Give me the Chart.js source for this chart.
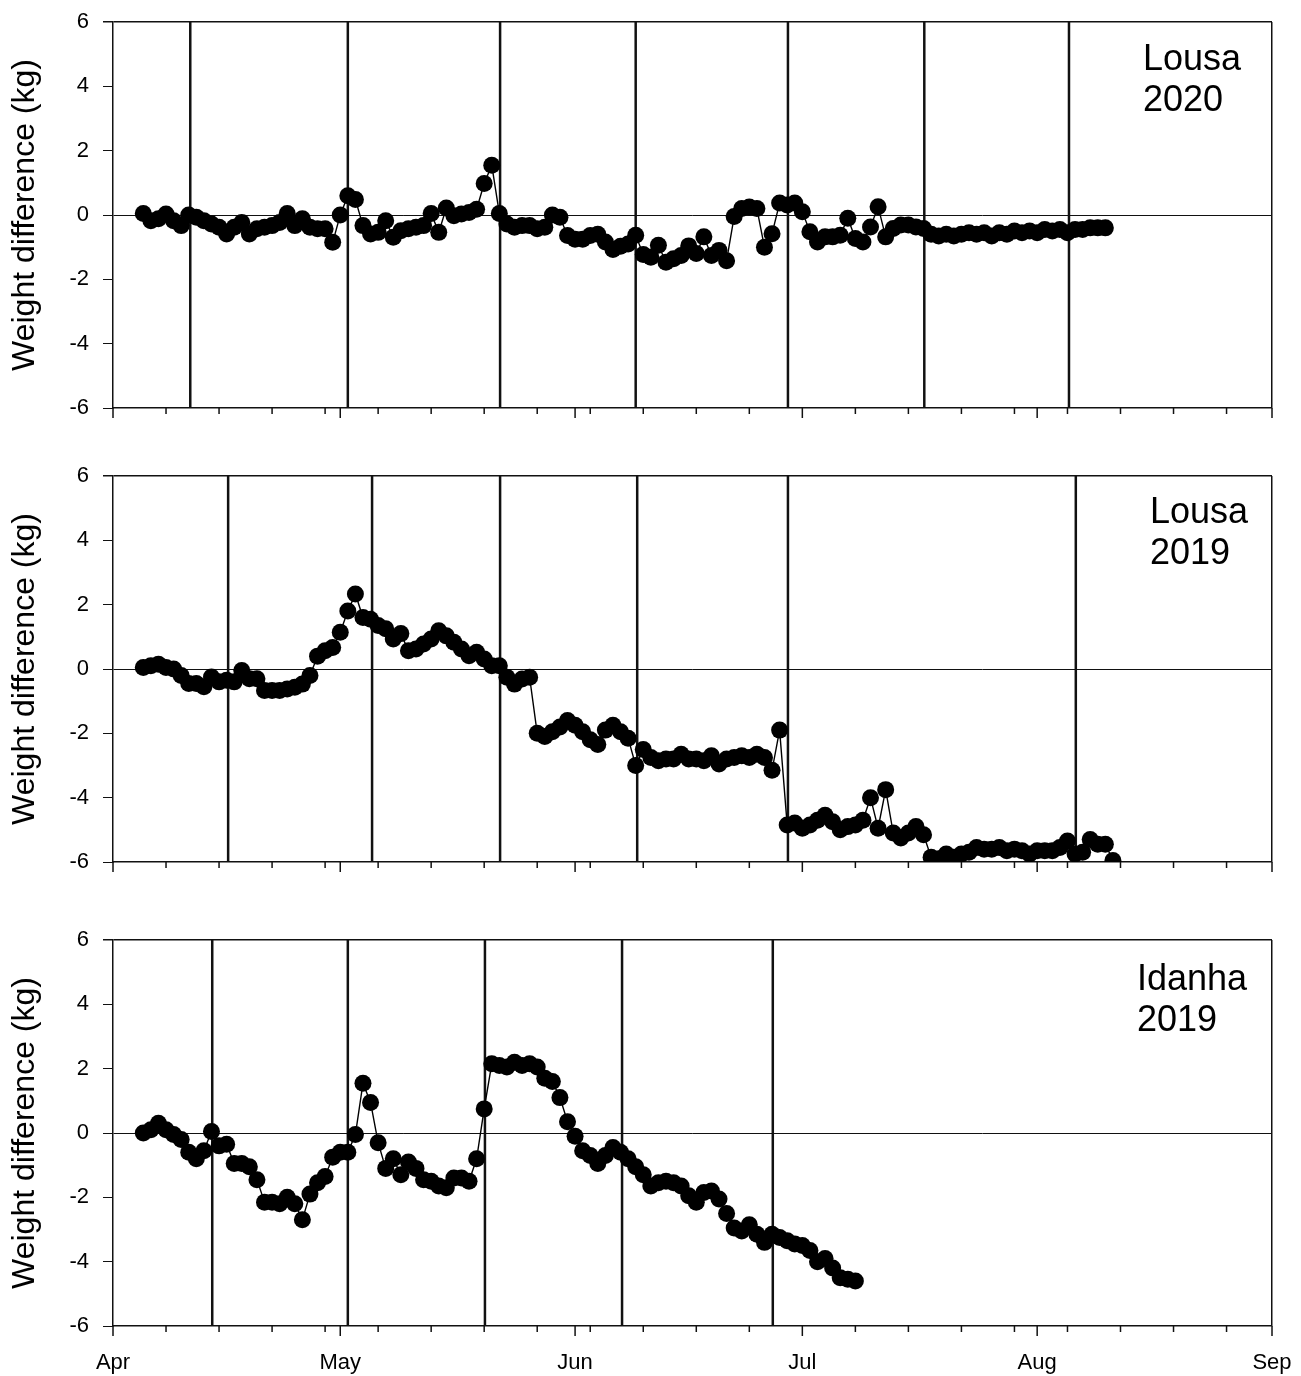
<!DOCTYPE html>
<html>
<head>
<meta charset="utf-8">
<script src="https://cdn.jsdelivr.net/npm/chart.js@4.4.1/dist/chart.umd.min.js"></script>
<style>
  body { margin: 0; background: #fff; overflow: hidden; }
  #wrap { position: relative; width: 1301px; height: 1376px; overflow: hidden; }
  canvas { position: absolute; left: 0; }
</style>
</head>
<body>
<div id="wrap">
  <canvas id="panel1" width="1301" height="442" style="top:-6px"></canvas>
  <canvas id="panel2" width="1301" height="442" style="top:448px"></canvas>
  <canvas id="panel3" width="1301" height="464" style="top:912px"></canvas>
</div>
<script>
// days are counted from 1 April (day 0), daily readings
const monthNames = ['Apr', 'May', 'Jun', 'Jul', 'Aug', 'Sep'];
const monthDays = [0, 30, 61, 91, 122, 153];
const weekDays = [7, 14, 21, 28, 35, 42, 49, 56, 63, 70, 77, 84, 98, 105, 112, 119, 126, 133, 140, 147];
const yTicks = [-6, -4, -2, 0, 2, 4, 6];

// Lousa 2020, first reading on day 4
const lousa2020Start = 4;
const lousa2020 = [
  0.05, -0.18, -0.12, 0.03, -0.18, -0.33, 0.0, -0.07, -0.18, -0.28,
  -0.38, -0.59, -0.38, -0.23, -0.59, -0.43, -0.38, -0.33, -0.23, 0.05,
  -0.33, -0.12, -0.38, -0.43, -0.43, -0.85, 0.0, 0.6, 0.48, -0.33,
  -0.59, -0.54, -0.18, -0.69, -0.49, -0.43, -0.38, -0.33, 0.05, -0.54,
  0.22, -0.02, 0.03, 0.08, 0.18, 0.98, 1.55, 0.05, -0.28, -0.38,
  -0.33, -0.33, -0.43, -0.38, 0.0, -0.07, -0.64, -0.75, -0.75, -0.64,
  -0.6, -0.84, -1.07, -0.97, -0.9, -0.63, -1.23, -1.31, -0.94, -1.47,
  -1.36, -1.26, -0.96, -1.2, -0.68, -1.26, -1.1, -1.42, -0.05, 0.2,
  0.25, 0.2, -1.0, -0.58, 0.37, 0.31, 0.37, 0.1, -0.52, -0.84,
  -0.68, -0.68, -0.63, -0.1, -0.73, -0.84, -0.37, 0.26, -0.68, -0.42,
  -0.31, -0.31, -0.37, -0.42, -0.6, -0.65, -0.6, -0.65, -0.6, -0.55,
  -0.6, -0.55, -0.65, -0.55, -0.6, -0.5, -0.55, -0.5, -0.55, -0.45,
  -0.5, -0.45, -0.55, -0.45, -0.45, -0.4, -0.4, -0.4
];
const lousa2020Events = [10.2, 31, 51.1, 69, 89.1, 107.1, 126.2];

// Lousa 2019
const lousa2019Start = 4;
const lousa2019 = [
  0.05, 0.1, 0.15, 0.05, 0.0, -0.2, -0.45, -0.45, -0.55, -0.25,
  -0.4, -0.35, -0.4, -0.05, -0.3, -0.3, -0.67, -0.67, -0.67, -0.62,
  -0.57, -0.47, -0.2, 0.4, 0.57, 0.67, 1.14, 1.8, 2.33, 1.6,
  1.55, 1.35, 1.25, 0.93, 1.1, 0.57, 0.62, 0.78, 0.93, 1.19,
  1.03, 0.83, 0.62, 0.41, 0.52, 0.31, 0.1, 0.1, -0.26, -0.47,
  -0.31, -0.26, -2.0, -2.1, -1.95, -1.8, -1.6, -1.75, -1.95, -2.2,
  -2.35, -1.9, -1.75, -1.95, -2.15, -3.0, -2.5, -2.75, -2.85, -2.8,
  -2.8, -2.65, -2.8, -2.8, -2.85, -2.7, -2.95, -2.8, -2.75, -2.7,
  -2.75, -2.65, -2.75, -3.15, -1.9, -4.85, -4.79, -4.95, -4.85, -4.7,
  -4.55, -4.75, -5.0, -4.9, -4.85, -4.7, -4.0, -4.95, -3.75, -5.1,
  -5.25, -5.1, -4.9, -5.15, -5.85, -5.9, -5.75, -5.85, -5.75, -5.7,
  -5.55, -5.6, -5.6, -5.55, -5.65, -5.6, -5.65, -5.75, -5.65, -5.65,
  -5.65, -5.55, -5.35, -5.75, -5.7, -5.3, -5.45, -5.45, -5.95
];
const lousa2019Events = [15.2, 34.2, 51.1, 69.2, 89.1, 127.1];

// Idanha 2019
const idanha2019Start = 4;
const idanha2019 = [
  0.0, 0.1, 0.3, 0.1, -0.05, -0.2, -0.6, -0.8, -0.55, 0.05,
  -0.4, -0.35, -0.95, -0.95, -1.05, -1.45, -2.15, -2.15, -2.2, -2.0,
  -2.2, -2.7, -1.9, -1.55, -1.35, -0.75, -0.6, -0.6, -0.05, 1.55,
  0.95, -0.3, -1.1, -0.8, -1.3, -0.9, -1.1, -1.45, -1.5, -1.65,
  -1.7, -1.4, -1.4, -1.5, -0.8, 0.75, 2.15, 2.1, 2.05, 2.2,
  2.1, 2.15, 2.05, 1.7, 1.6, 1.1, 0.35, -0.1, -0.55, -0.7,
  -0.95, -0.7, -0.45, -0.6, -0.8, -1.05, -1.3, -1.65, -1.55, -1.5,
  -1.55, -1.65, -1.95, -2.15, -1.85, -1.8, -2.05, -2.5, -2.95, -3.05,
  -2.85, -3.15, -3.4, -3.15, -3.25, -3.35, -3.45, -3.5, -3.65, -4.0,
  -3.9, -4.2, -4.5, -4.55, -4.6
];
const idanha2019Events = [13.1, 31, 49.1, 67.2, 87.1];

const fontFamily = "'Liberation Sans', Arial, sans-serif";

// vertical event lines, site label and the week / month tick marks
const panelExtras = {
  id: 'panelExtras',
  beforeDatasetsDraw(chart, args, opts) {
    const ctx = chart.ctx;
    const area = chart.chartArea;
    const x = chart.scales.x;
    ctx.save();
    ctx.strokeStyle = '#111';
    ctx.lineWidth = 2.5;
    for (let i = 0; i < opts.events.length; i++) {
      const px = x.getPixelForValue(opts.events[i]);
      ctx.beginPath();
      ctx.moveTo(px, area.top);
      ctx.lineTo(px, area.bottom);
      ctx.stroke();
    }
    ctx.restore();
  },
  afterDraw(chart, args, opts) {
    const ctx = chart.ctx;
    const area = chart.chartArea;
    const x = chart.scales.x;
    ctx.save();
    ctx.strokeStyle = '#111';
    ctx.lineWidth = 1.5;
    const all = monthDays.concat(weekDays);
    for (let i = 0; i < all.length; i++) {
      const px = x.getPixelForValue(all[i]);
      const len = monthDays.includes(all[i]) ? 10 : 6;
      ctx.beginPath();
      ctx.moveTo(px, area.bottom);
      ctx.lineTo(px, area.bottom + len);
      ctx.stroke();
    }
    ctx.fillStyle = '#000';
    ctx.font = '36px ' + fontFamily;
    ctx.textBaseline = 'middle';
    ctx.textAlign = 'left';
    for (let i = 0; i < opts.label.length; i++) {
      ctx.fillText(opts.label[i], opts.labelX, area.top + opts.labelY + i * 41);
    }
    ctx.restore();
  }
};

function makePanel(canvasId, start, values, events, label, labelX, labelY, showMonths, xHeight) {
  const points = values.map((v, i) => ({ x: start + i, y: v }));
  return new Chart(document.getElementById(canvasId), {
    type: 'line',
    data: {
      datasets: [{
        data: points,
        borderColor: '#000',
        borderWidth: 1.4,
        pointRadius: 8.5,
        pointBackgroundColor: '#000',
        pointBorderWidth: 0,
        tension: 0
      }]
    },
    options: {
      responsive: false,
      animation: false,
      layout: { padding: { top: 28, right: 29, left: 0, bottom: 0 } },
      plugins: {
        legend: { display: false },
        tooltip: { enabled: false },
        panelExtras: { events: events, label: label, labelX: labelX, labelY: labelY }
      },
      scales: {
        x: {
          type: 'linear',
          min: 0,
          max: 153,
          afterBuildTicks: axis => { axis.ticks = monthDays.concat(weekDays).sort((a, b) => a - b).map(v => ({ value: v })); },
          afterFit: s => { s.height = xHeight; },
          grid: {
            // tick marks are drawn by panelExtras, this only spaces the month labels
            drawTicks: true,
            tickLength: 24,
            tickColor: 'rgba(0,0,0,0)',
            color: c => (c.tick && c.tick.value === 153) ? '#111' : 'rgba(0,0,0,0)',
            lineWidth: 1.5
          },
          border: { display: true, color: '#111', width: 1.5 },
          ticks: {
            autoSkip: false,
            maxRotation: 0,
            padding: 0,
            color: '#000',
            font: { size: 22, family: fontFamily },
            callback: v => showMonths && monthDays.includes(v) ? monthNames[monthDays.indexOf(v)] : ''
          }
        },
        y: {
          min: -6,
          max: 6,
          afterBuildTicks: axis => { axis.ticks = yTicks.map(v => ({ value: v })); },
          afterFit: s => { s.width = 113; },
          grid: {
            color: c => (c.tick && (c.tick.value === 0 || c.tick.value === 6)) ? '#111' : 'rgba(0,0,0,0)',
            lineWidth: c => (c.tick && c.tick.value === 6) ? 1.5 : 1,
            tickColor: '#111',
            tickLength: 10
          },
          border: { display: true, color: '#111', width: 1.5 },
          ticks: { padding: 14, color: '#000', font: { size: 22, family: fontFamily } },
          title: {
            display: true,
            text: 'Weight difference (kg)',
            color: '#000',
            font: { size: 32, family: fontFamily },
            padding: { top: 6, bottom: 0 }
          }
        }
      }
    },
    plugins: [panelExtras]
  });
}

makePanel('panel1', lousa2020Start, lousa2020, lousa2020Events, ['Lousa', '2020'], 1143, 38, false, 28);
makePanel('panel2', lousa2019Start, lousa2019, lousa2019Events, ['Lousa', '2019'], 1150, 37, false, 28);
makePanel('panel3', idanha2019Start, idanha2019, idanha2019Events, ['Idanha', '2019'], 1137, 40, true, 50);
</script>
</body>
</html>
